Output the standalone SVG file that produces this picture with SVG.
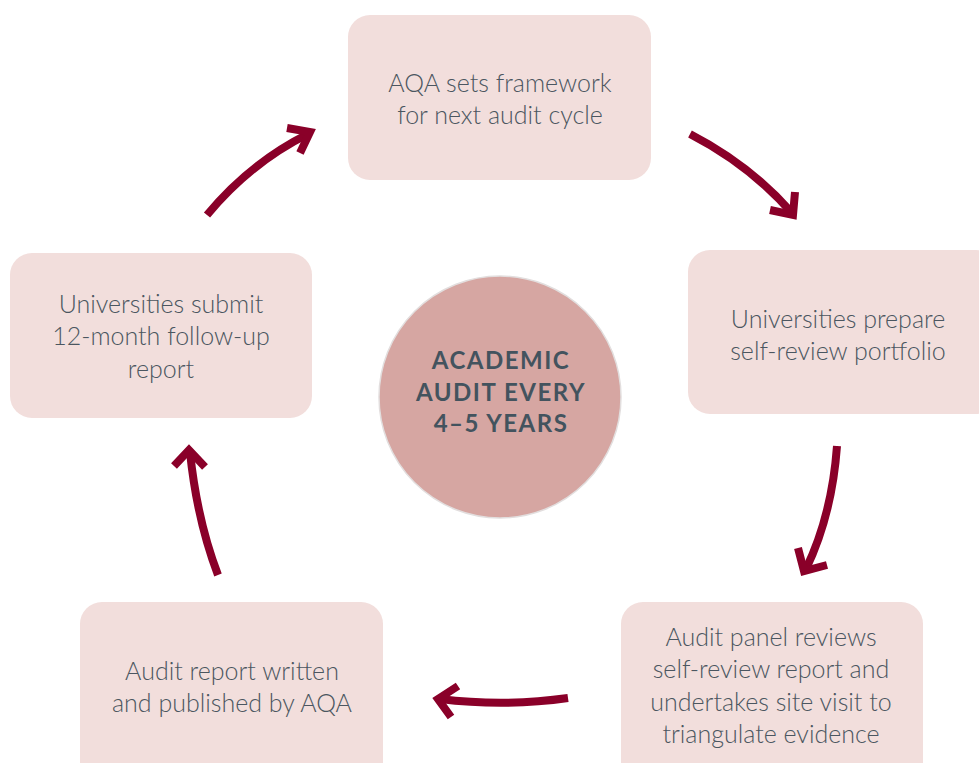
<svg xmlns="http://www.w3.org/2000/svg" width="979" height="763" viewBox="0 0 979 763">
<style>
.box{fill:#f2dedc;}
.lbl{font-family:Lato,"Open Sans","Liberation Sans",sans-serif;font-size:25px;font-weight:300;fill:#4b5660;text-anchor:middle;}
.ctr{font-family:Lato,"Open Sans","Liberation Sans",sans-serif;font-size:24px;font-weight:700;letter-spacing:1.5px;fill:#43535e;text-anchor:middle;}
.arr{fill:none;stroke:#8a0029;stroke-width:8;}
.head{fill:none;stroke:#8a0029;stroke-width:8;stroke-linejoin:miter;}
</style>
<rect width="979" height="763" fill="#ffffff"/>
<g id="node-center">
<circle cx="500" cy="397" r="121" fill="#d6a6a2" stroke="#e2dede" stroke-width="1.5"/>
<text class="ctr" x="501" y="369">ACADEMIC</text>
<text class="ctr" x="501" y="401">AUDIT EVERY</text>
<text class="ctr" x="501" y="432">4–5 YEARS</text>
</g>
<g id="node-framework">
<rect class="box" x="348" y="15" width="303" height="165" rx="22"/>
<text class="lbl" x="500" y="92">AQA sets framework</text>
<text class="lbl" x="500" y="124">for next audit cycle</text>
</g>
<g id="node-prepare">
<rect class="box" x="688" y="250" width="310" height="164" rx="22"/>
<text class="lbl" x="838" y="328">Universities prepare</text>
<text class="lbl" x="838" y="360">self-review portfolio</text>
</g>
<g id="node-panel">
<rect class="box" x="621" y="602" width="302" height="185" rx="22"/>
<text class="lbl" x="771" y="646">Audit panel reviews</text>
<text class="lbl" x="771" y="678">self-review report and</text>
<text class="lbl" x="771" y="711">undertakes site visit to</text>
<text class="lbl" x="771" y="743">triangulate evidence</text>
</g>
<g id="node-report">
<rect class="box" x="80" y="602" width="303" height="185" rx="22"/>
<text class="lbl" x="232" y="680">Audit report written</text>
<text class="lbl" x="232" y="712">and published by AQA</text>
</g>
<g id="node-followup">
<rect class="box" x="10" y="253" width="302" height="165" rx="22"/>
<text class="lbl" x="161" y="313">Universities submit</text>
<text class="lbl" x="161" y="345">12-month follow-up</text>
<text class="lbl" x="161" y="378">report</text>
</g>
<g id="connectors">
<path class="arr" d="M207,215 Q250,163 308,134"/>
<polyline class="head" points="287,128 310,132 300,153"/>
<path class="arr" d="M690,134 Q750,165 792,213"/>
<polyline class="head" points="770,210 793,215 795,192"/>
<path class="arr" d="M837,446 Q832,515 806,569"/>
<polyline class="head" points="798,548 804,571 827,565"/>
<path class="arr" d="M568,698 Q505,707 440,699"/>
<polyline class="head" points="458,686 438,699 451,717"/>
<path class="arr" d="M218,575 Q197,520 190,452"/>
<polyline class="head" points="174,466 189,450 205,467"/>
</g>
</svg>
